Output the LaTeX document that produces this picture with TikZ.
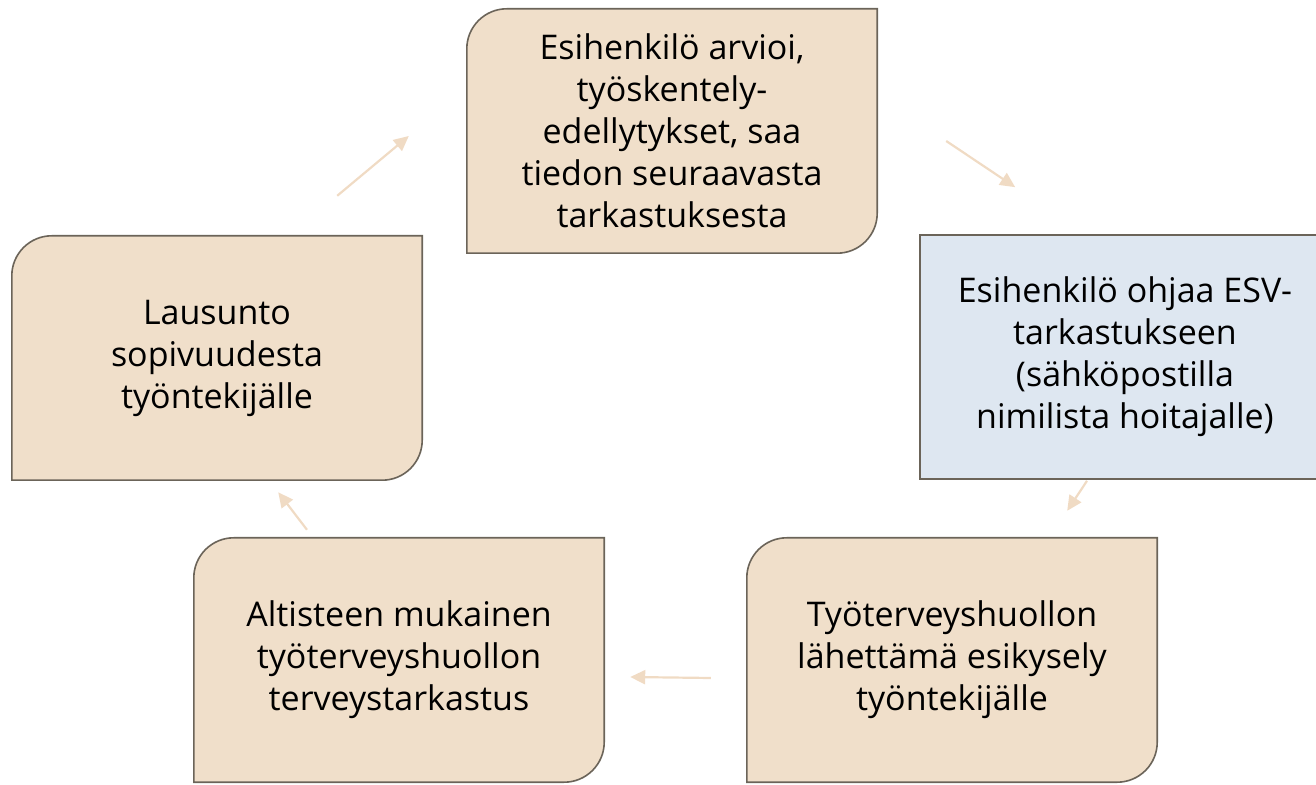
\documentclass[tikz,border=0pt]{standalone}
\usepackage{fontspec}
\setmainfont{Open Sans}
\usetikzlibrary{arrows.meta, backgrounds}

\definecolor{sand}{HTML}{F0DFCA}
\definecolor{sky}{HTML}{DEE7F1}
\definecolor{rim}{HTML}{6B6459}
\definecolor{trail}{HTML}{F0DBC4}

\begin{document}
\begin{tikzpicture}[x = 1pt, y = 1pt,
    every node/.style = {minimum width = 410pt, minimum height = 244pt, inner sep = 0pt, align = center, font = \fontsize{34}{42}\selectfont},
    card/.style = {draw = rim, fill = sand, line width = 1.6pt},
    flow/.style = {draw = trail, line width = 2.2pt, -{Triangle[length = 15pt, width = 14pt]}}]
            \clip (0, 0) rectangle (1316, 784);
            \node (top) at (672, 653) {Esihenkilö arvioi,\\ työskentely-\\ edellytykset, saa\\ tiedon seuraavasta\\ tarkastuksesta};
            \node[draw = rim, fill = sky, line width = 1.6pt] (right) at (1125, 427) {Esihenkilö ohjaa ESV-\\ tarkastukseen\\ (sähköpostilla\\ nimilista hoitajalle)};
            \node (lowright) at (952, 124) {Työterveyshuollon\\ lähettämä esikysely\\ työntekijälle};
            \node (lowleft) at (399, 124) {Altisteen mukainen\\ työterveyshuollon\\ terveystarkastus};
            \node (left) at (217, 426) {Lausunto\\ sopivuudesta\\ työntekijälle};
            \begin{scope}[on background layer]
                \foreach \n in {top, lowright, lowleft, left}
                    \draw[card] ([yshift = -40pt]\n.north west) arc[start angle = 180, end angle = 90, radius = 40pt]
                        -- (\n.north east) -- ([yshift = 40pt]\n.south east)
                        arc[start angle = 0, end angle = -90, radius = 40pt] -- (\n.south west) -- cycle;
            \end{scope}
            \draw[flow] ([shift = {(-85, 40)}]left.north east) -- ([shift = {(-58, -5)}]top.west);
            \draw[flow] ([shift = {(69, -10)}]top.east) -- ([shift = {(96, 47)}]right.north west);
            \draw[flow] ([shift = {(-38, -1)}]right.south) -- ([shift = {(-90, 27)}]lowright.north east);
            \draw[flow] ([shift = {(-36, -18)}]lowright.west) -- ([shift = {(26, -17)}]lowleft.east);
            \draw[flow] ([shift = {(-92, 8)}]lowleft.north) -- ([shift = {(-144, -12)}]left.south east);
        \end{tikzpicture}
\end{document}
